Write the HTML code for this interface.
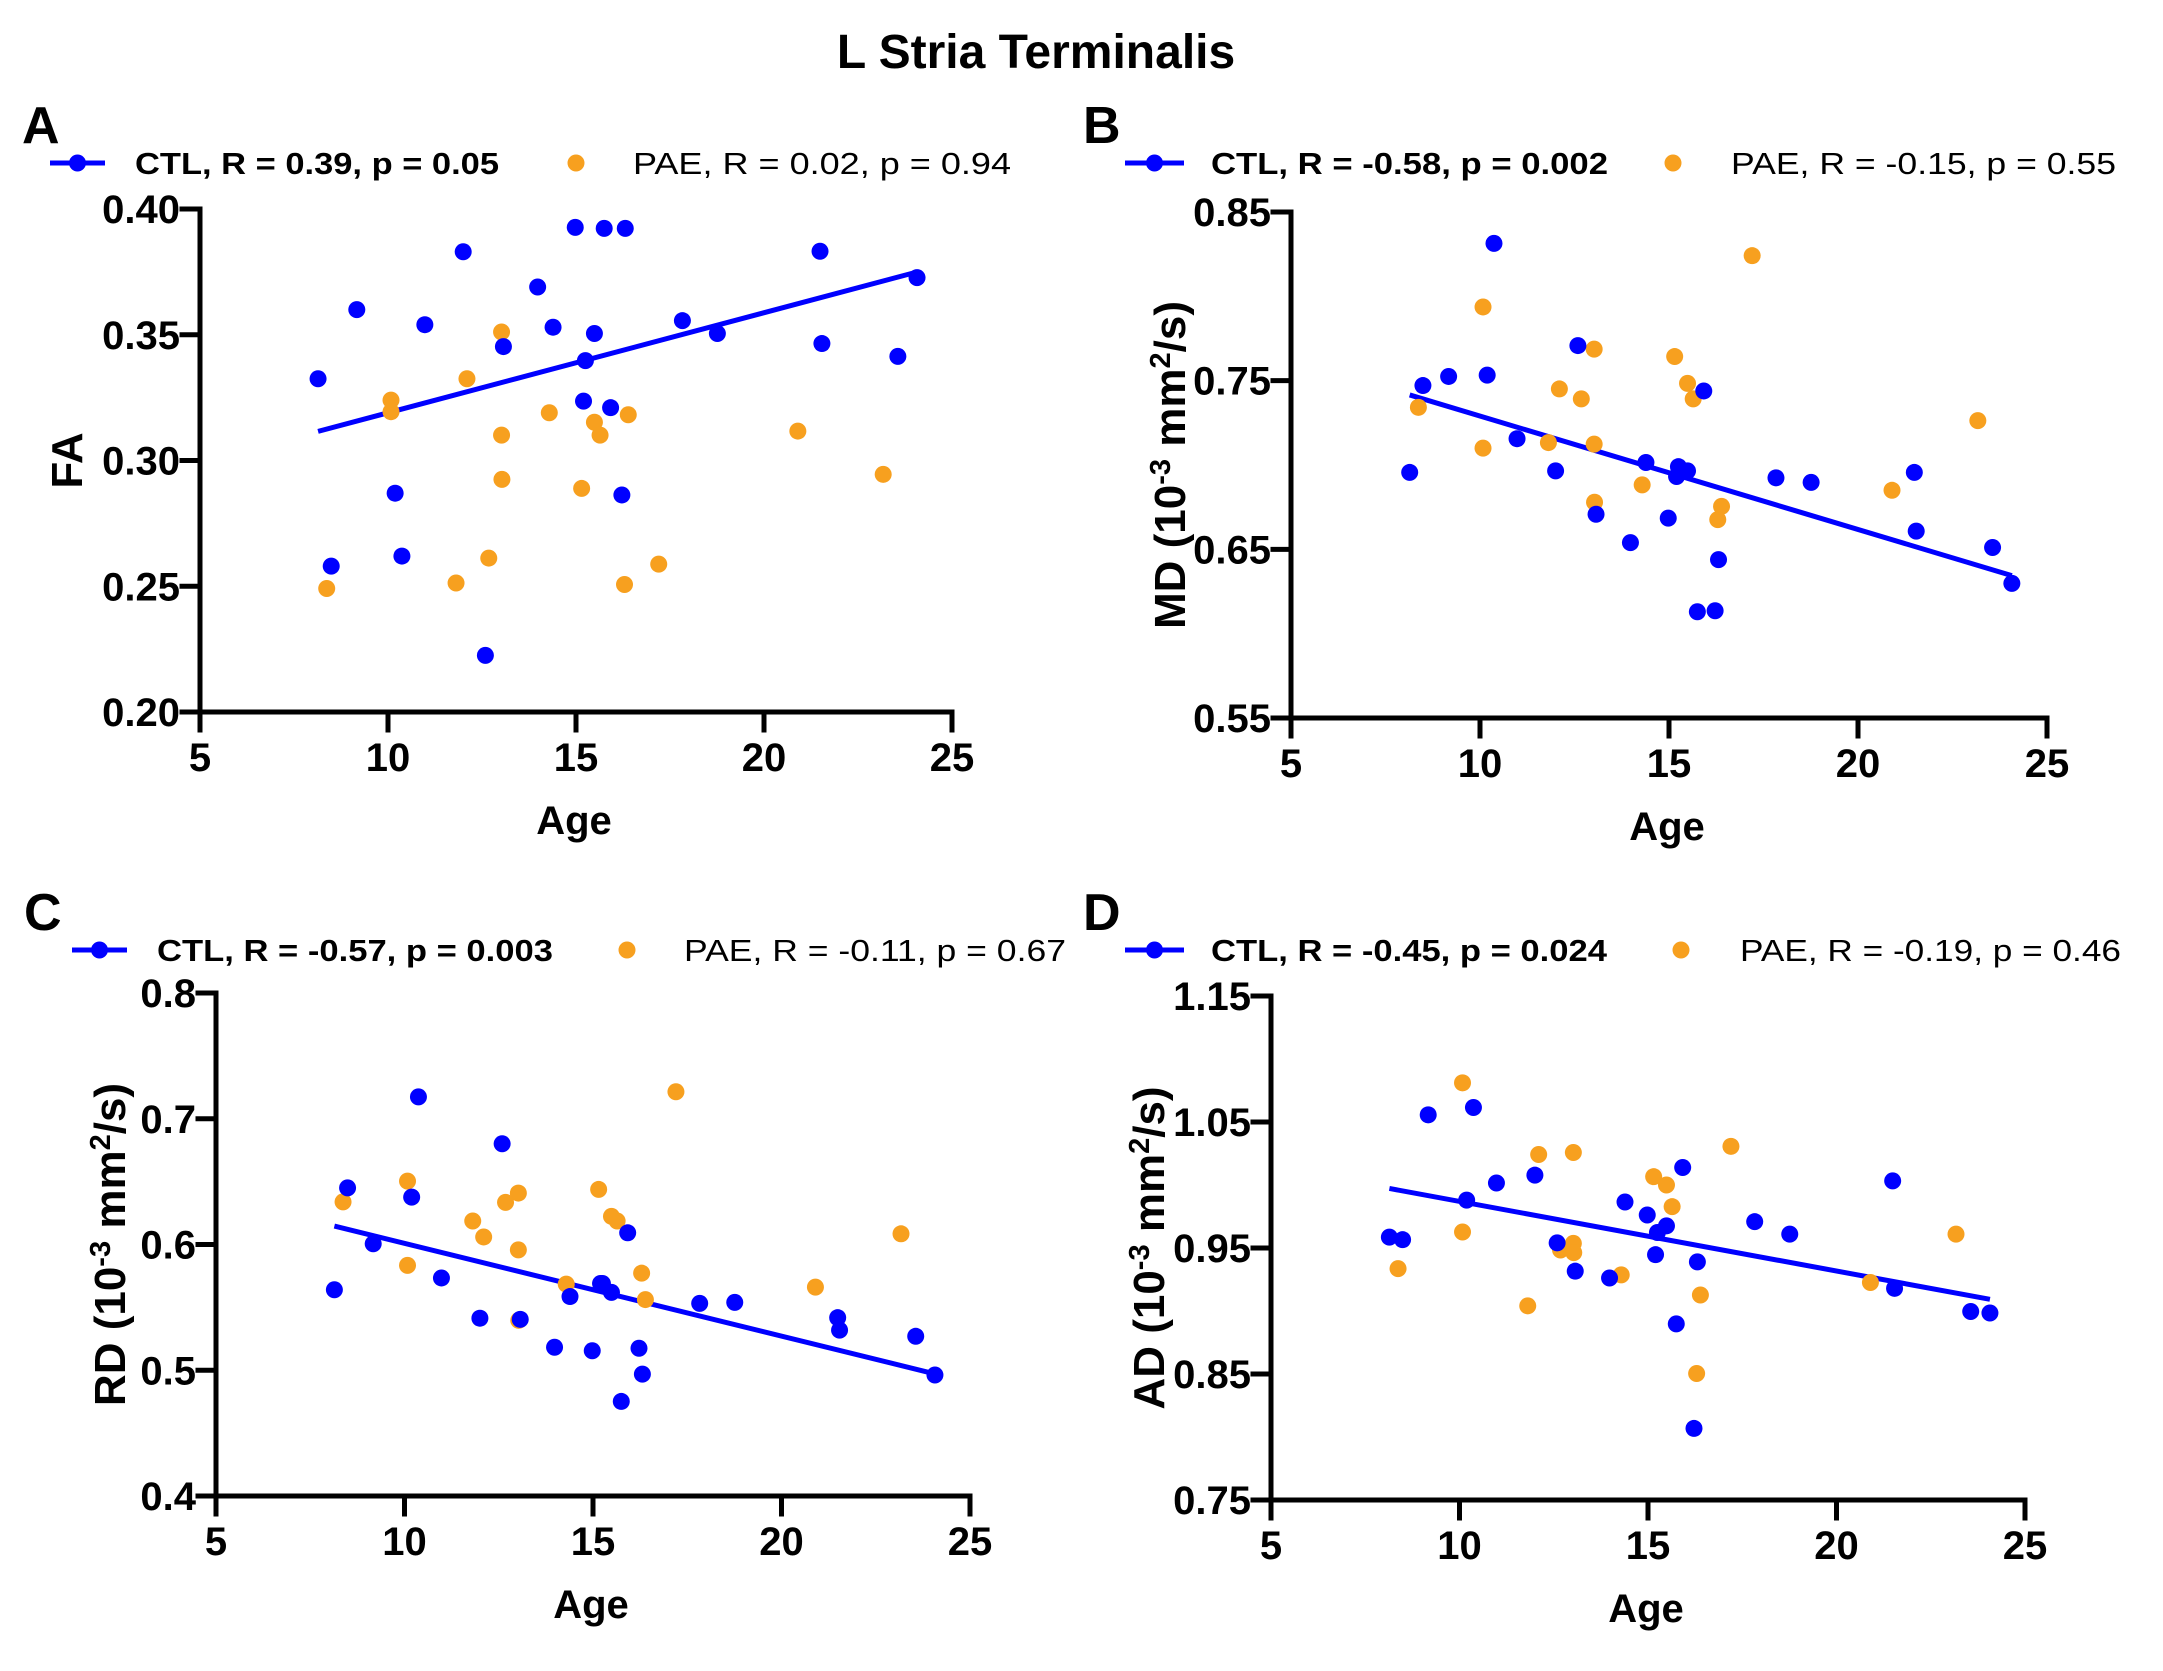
<!DOCTYPE html>
<html><head><meta charset="utf-8"><style>
html,body{margin:0;padding:0;background:#fff;}
svg{display:block;font-family:"Liberation Sans",Arial,sans-serif;}
</style></head>
<body>
<svg id="fig" width="2163" height="1671" viewBox="0 0 2163 1671" xmlns="http://www.w3.org/2000/svg">
<text x="1036" y="68" text-anchor="middle" font-size="48" font-weight="bold">L Stria Terminalis</text>
</svg>
<script>
// Shared ages
const ctlAge = [8.14,8.49,9.17,10.19,10.37,10.98,12.0,12.59,13.07,13.98,14.39,14.98,15.2,15.25,15.49,15.75,15.92,16.22,16.31,17.83,18.76,21.49,21.54,23.56,24.07];
const paeAge = [8.37,10.08,10.08,11.81,12.10,12.68,13.02,13.02,13.03,14.29,15.15,15.49,15.64,16.29,16.39,17.2,20.9,23.17];
// Panel A - FA
const faCtl = [0.3325,0.258,0.360,0.287,0.262,0.354,0.383,0.2225,0.3453,0.369,0.353,0.3927,0.3236,0.3397,0.3505,0.3923,0.321,0.2863,0.3923,0.3556,0.3505,0.3832,0.3465,0.3414,0.3727];
const faPae = [0.2491,0.3240,0.3194,0.2513,0.3325,0.2612,0.3511,0.3101,0.2925,0.319,0.2889,0.3152,0.3101,0.2507,0.3182,0.2588,0.3117,0.2945];
// Panel B - MD
const mdCtl = [0.6956,0.7471,0.7525,0.7533,0.8314,0.7156,0.6965,0.7708,0.6708,0.654,0.7015,0.6685,0.6932,0.699,0.6965,0.613,0.7439,0.6136,0.6439,0.6924,0.6897,0.6956,0.6608,0.6511,0.6298];
const mdPae = [0.7342,0.7937,0.71,0.7133,0.7451,0.7392,0.7687,0.7124,0.6779,0.6882,0.7643,0.7484,0.7392,0.6676,0.6755,0.8241,0.685,0.7263];
// Panel C - RD
const rdCtl = [0.564,0.645,0.6006,0.6377,0.7174,0.5734,0.5414,0.6801,0.5405,0.5183,0.5586,0.5155,0.569,0.569,0.5619,0.4752,0.6093,0.5175,0.4969,0.5532,0.554,0.5418,0.5319,0.527,0.4962];
const rdPae = [0.6339,0.6504,0.5834,0.6187,0.6060,0.6335,0.6409,0.5957,0.5397,0.5685,0.6438,0.6224,0.6187,0.5772,0.5562,0.7215,0.5661,0.6085];
// Panel D - AD
const adCtl = [0.9586,0.9566,1.0557,0.988,1.0615,1.0016,1.0078,0.9541,0.9316,0.9262,0.9865,0.9762,0.9447,0.9623,0.9676,0.8898,1.0139,0.8068,0.939,0.9709,0.961,1.0033,0.918,0.8996,0.8984];
const adPae = [0.9336,1.0811,0.9627,0.9041,1.0242,0.9484,1.0258,0.9537,0.9463,0.9287,1.0066,1.0,0.9828,0.8504,0.9127,1.0307,0.9226,0.961];
// Tick labels
const xTicks = [5,10,15,20,25];
const faTicks = ["0.20","0.25","0.30","0.35","0.40"];
const mdTicks = ["0.55","0.65","0.75","0.85"];
const rdTicks = ["0.4","0.5","0.6","0.7","0.8"];
const adTicks = ["0.75","0.85","0.95","1.05","1.15"];
const ctlLabels = ["CTL, R = 0.39, p = 0.05","CTL, R = -0.58, p = 0.002","CTL, R = -0.57, p = 0.003","CTL, R = -0.45, p = 0.024"];
const paeLabels = ["PAE, R = 0.02, p = 0.94","PAE, R = -0.15, p = 0.55","PAE, R = -0.11, p = 0.67","PAE, R = -0.19, p = 0.46"];

const NS="http://www.w3.org/2000/svg";
const svg=document.getElementById('fig');
function mk(tag,attrs,parent){const e=document.createElementNS(NS,tag);for(const k in attrs)e.setAttribute(k,attrs[k]);(parent||svg).appendChild(e);return e;}

const panels=[
 {id:'a',letter:'A',lx:22,ly:143,x0:200,x1:952,yT:209,yB:712,ymin:0.20,ymax:0.40,ticks:faTicks,ctl:faCtl,pae:faPae,
  legY:163,lineX0:50,lineX1:105,ctlTx:135,ctlTw:364,paeDot:576,paeTx:633,paeTw:378,title:'FA',titleX:67,sup:false},
 {id:'b',letter:'B',lx:1083,ly:143,x0:1291,x1:2047,yT:212,yB:718,ymin:0.55,ymax:0.85,ticks:mdTicks,ctl:mdCtl,pae:mdPae,
  legY:163,lineX0:1125,lineX1:1184,ctlTx:1211,ctlTw:397,paeDot:1673,paeTx:1731,paeTw:385,title:'MD',titleX:1170,sup:true},
 {id:'c',letter:'C',lx:24,ly:930,x0:216,x1:970,yT:993,yB:1496,ymin:0.4,ymax:0.8,ticks:rdTicks,ctl:rdCtl,pae:rdPae,
  legY:950,lineX0:72,lineX1:127,ctlTx:157,ctlTw:396,paeDot:627,paeTx:684,paeTw:382,title:'RD',titleX:110,sup:true},
 {id:'d',letter:'D',lx:1083,ly:930,x0:1271,x1:2025,yT:996,yB:1500,ymin:0.75,ymax:1.15,ticks:adTicks,ctl:adCtl,pae:adPae,
  legY:950,lineX0:1125,lineX1:1184,ctlTx:1211,ctlTw:396,paeDot:1681,paeTx:1740,paeTw:381,title:'AD',titleX:1149,sup:true}
];
const BLUE='#0000ff', ORANGE='#f7a01f';

panels.forEach((p,i)=>{
  const g=mk('g',{});
  
  
  const sx=v=>p.x0+(v-5)/(25-5)*(p.x1-p.x0);
  const sy=v=>p.yB-(v-p.ymin)/(p.ymax-p.ymin)*(p.yB-p.yT);

  const L=mk('text',{x:p.lx,y:p.ly,'font-size':52,'font-weight':'bold'},g);L.textContent=p.letter;
  
  

  const lg=mk('g',{},g);
  
  
  mk('line',{x1:p.lineX0,y1:p.legY,x2:p.lineX1,y2:p.legY,stroke:BLUE,'stroke-width':5},lg);
  mk('circle',{cx:(p.lineX0+p.lineX1)/2,cy:p.legY,r:8.5,fill:BLUE},lg);
  const ct=mk('text',{x:p.ctlTx,y:p.legY+11,'font-size':31,'font-weight':'bold',textLength:p.ctlTw,lengthAdjust:'spacingAndGlyphs'},lg);ct.textContent=ctlLabels[i];
  
  
  mk('circle',{cx:p.paeDot,cy:p.legY,r:8.5,fill:ORANGE},lg);
  const pt=mk('text',{x:p.paeTx,y:p.legY+11,'font-size':31,textLength:p.paeTw,lengthAdjust:'spacingAndGlyphs'},lg);pt.textContent=paeLabels[i];
  
  

  const ax=mk('g',{stroke:'#000','stroke-width':5,'stroke-linecap':'square'},g);
  
  
  mk('line',{x1:p.x0,y1:p.yT,x2:p.x0,y2:p.yB},ax);
  mk('line',{x1:p.x0,y1:p.yB,x2:p.x1,y2:p.yB},ax);
  xTicks.forEach(t=>{
    mk('line',{x1:sx(t),y1:p.yB,x2:sx(t),y2:p.yB+18},ax);
    const tx=mk('text',{x:sx(t),y:p.yB+59,'text-anchor':'middle','font-size':40,'font-weight':'bold'},g);tx.textContent=t;
    
    
  });
  p.ticks.forEach(t=>{
    const v=parseFloat(t);
    mk('line',{x1:p.x0-18,y1:sy(v),x2:p.x0,y2:sy(v)},ax);
    const ty=mk('text',{x:p.x0-20,y:sy(v)+14,'text-anchor':'end','font-size':40,'font-weight':'bold'},g);ty.textContent=t;
    
    
  });
  const xt=mk('text',{x:(p.x0+p.x1)/2-2,y:p.yB+122,'text-anchor':'middle','font-size':40,'font-weight':'bold'},g);xt.textContent='Age';
  
  
  const cy=(p.yT+p.yB)/2;
  const yt=mk('text',{x:p.titleX+15,y:cy,'text-anchor':'middle','font-size':44,'font-weight':'bold',transform:`rotate(-90 ${p.titleX+15} ${cy})`},g);
  
  
  if(p.sup){
    yt.appendChild(document.createTextNode(p.title+' (10'));
    const s1=mk('tspan',{'font-size':29,dy:-15},yt);s1.textContent='-3';
    const s2=mk('tspan',{dy:15},yt);s2.textContent=' mm';
    const s3=mk('tspan',{'font-size':29,dy:-15},yt);s3.textContent='2';
    const s4=mk('tspan',{dy:15},yt);s4.textContent='/s)';
  } else yt.textContent=p.title;

  const n=ctlAge.length;let mx=0,my=0;
  for(let k=0;k<n;k++){mx+=ctlAge[k];my+=p.ctl[k];}mx/=n;my/=n;
  let sxy=0,sxx=0;for(let k=0;k<n;k++){sxy+=(ctlAge[k]-mx)*(p.ctl[k]-my);sxx+=(ctlAge[k]-mx)**2;}
  const b=sxy/sxx,a=my-b*mx;
  const xa=Math.min(...ctlAge),xb=Math.max(...ctlAge);
  const rl=mk('line',{x1:sx(xa),y1:sy(a+b*xa),x2:sx(xb),y2:sy(a+b*xb),stroke:BLUE,'stroke-width':5},g);
  
  

  paeAge.forEach((x,k)=>{
    const c=mk('circle',{cx:sx(x),cy:sy(p.pae[k]),r:8.5,fill:ORANGE},g);
    
    
  });
  ctlAge.forEach((x,k)=>{
    const c=mk('circle',{cx:sx(x),cy:sy(p.ctl[k]),r:8.5,fill:BLUE},g);
    
    
  });
});
</script>
</body></html>
